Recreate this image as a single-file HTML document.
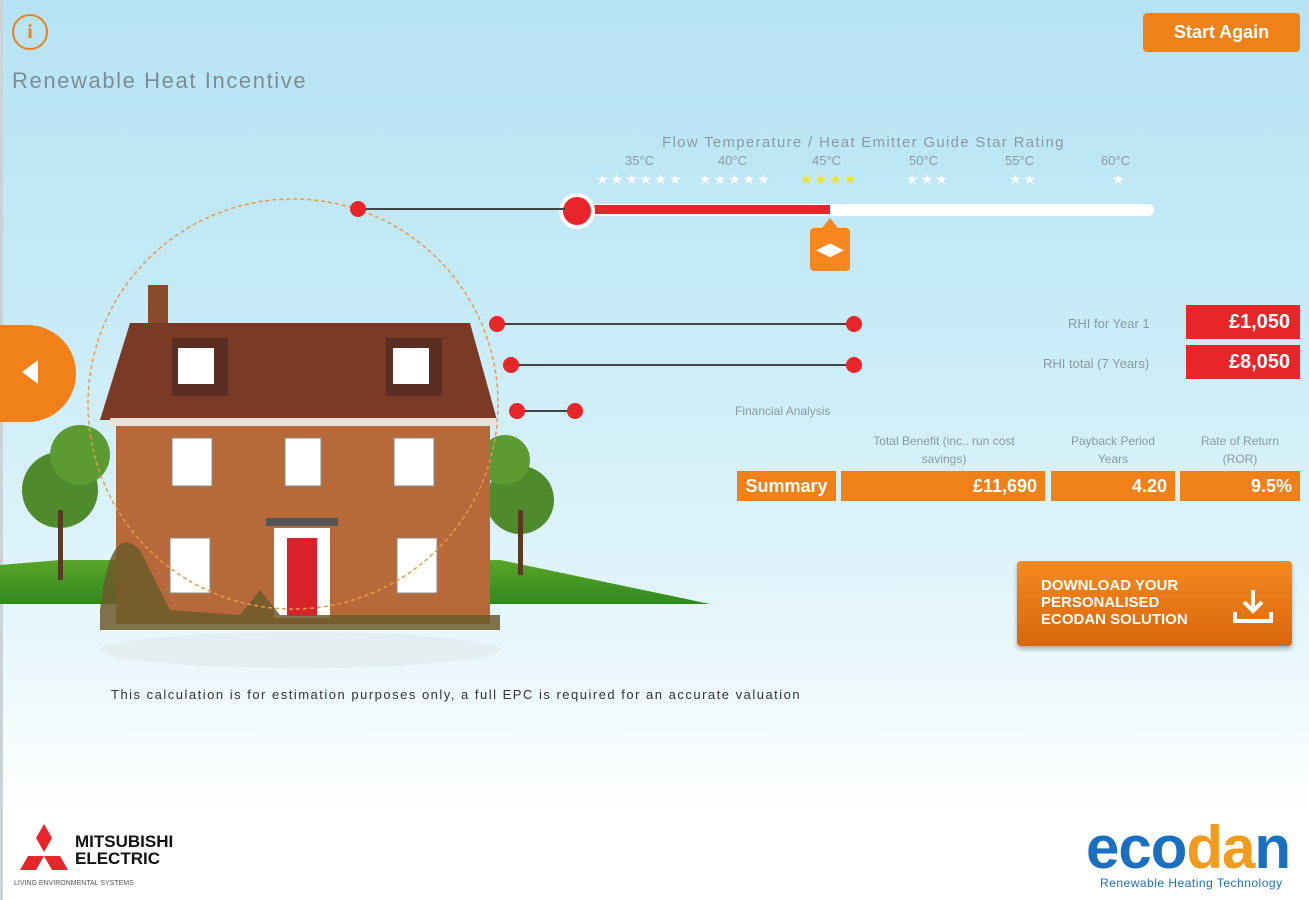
<!DOCTYPE html>
<html><head><meta charset="utf-8"><style>
*{margin:0;padding:0;box-sizing:border-box}
body{width:1309px;height:900px;overflow:hidden;position:relative;font-family:"Liberation Sans","DejaVu Sans",sans-serif;background:linear-gradient(#b6e3f4 0px,#c6ebf7 300px,#e2f5fb 600px,#ffffff 810px,#fff 900px)}
.a{position:absolute}
.t{color:#8a9aa2;font-size:12px}
.red{background:#e8262a;color:#fff;font-weight:bold;font-size:20px;text-align:right;padding-right:10px;line-height:34px}
.or{background:#f08119;color:#fff;font-weight:bold;font-size:18px;text-align:right;padding-right:8px;line-height:30px}
.st{position:absolute;white-space:nowrap;font-size:14px;letter-spacing:2px}
</style></head><body>
<div class="a" style="left:0;top:0;width:3px;height:900px;background:#c9d3d8"></div>
<div class="a" style="left:12px;top:14px;width:36px;height:36px;border:2px solid #f08119;border-radius:50%;color:#f08119;font:bold 20px 'Liberation Serif',serif;text-align:center;line-height:32px">i</div>
<div class="a" style="left:12px;top:68px;font-size:22px;color:#7e8c94;letter-spacing:1.6px">Renewable Heat Incentive</div>
<div class="a" style="left:1143px;top:13px;width:157px;height:39px;background:#f08119;border-radius:4px;color:#fff;font-weight:bold;font-size:18px;text-align:center;line-height:39px">Start Again</div>

<div class="a t" style="left:662px;top:134px;font-size:15px;letter-spacing:1.3px">Flow Temperature / Heat Emitter Guide Star Rating</div>
<div class="a t" style="left:625px;top:153px;width:540px;font-size:13px">
<span class="a" style="left:0">35°C</span><span class="a" style="left:93px">40°C</span><span class="a" style="left:187px">45°C</span><span class="a" style="left:284px">50°C</span><span class="a" style="left:380px">55°C</span><span class="a" style="left:476px">60°C</span></div>
<div class="a" style="left:596px;top:171px;color:#fff">
<span class="st" style="left:0">★★★★★★</span><span class="st" style="left:103px">★★★★★</span><span class="st" style="left:204px;color:#f2e21a">★★★★</span><span class="st" style="left:310px">★★★</span><span class="st" style="left:413px">★★</span><span class="st" style="left:516px">★</span></div>
<div class="a" style="left:576px;top:204px;width:578px;height:12px;background:#fff;border-radius:6px"></div>
<div class="a" style="left:576px;top:205px;width:254px;height:9px;background:#e8262a"></div>
<div class="a" style="left:559px;top:193px;width:36px;height:36px;border-radius:50%;background:#e8262a;border:4px solid #fff"></div>
<div class="a" style="left:810px;top:228px;width:40px;height:43px;background:#f7861e;border-radius:4px;color:#fff;font-size:18px;text-align:center;line-height:43px">◀▶</div>
<div class="a" style="left:822px;top:218px;width:0;height:0;border:8px solid transparent;border-bottom:10px solid #f7861e;border-top:0"></div>

<svg class="a" style="left:0;top:190px" width="720" height="480">
<defs><linearGradient id="g" x1="0" x2="0" y1="0" y2="1"><stop offset="0" stop-color="#5aa52a"/><stop offset="1" stop-color="#2f8a1d"/></linearGradient></defs>
<path d="M0 375 L60 370 L500 370 L710 414 L0 414Z" fill="url(#g)"/>
<circle cx="60" cy="300" r="38" fill="#4f8a2c"/><circle cx="80" cy="265" r="30" fill="#5c9a32"/><rect x="58" y="320" width="5" height="70" fill="#5a3a20"/>
<circle cx="520" cy="310" r="34" fill="#4f8a2c"/><circle cx="505" cy="270" r="25" fill="#5c9a32"/><rect x="518" y="320" width="5" height="65" fill="#5a3a20"/>
<rect x="148" y="95" width="20" height="45" fill="#8b4a2a"/>
<path d="M100 230 L130 133 L470 133 L497 230Z" fill="#7a3a26"/>
<rect x="172" y="148" width="56" height="58" fill="#5a2e22"/><rect x="178" y="158" width="36" height="36" fill="#fff"/>
<rect x="386" y="148" width="56" height="58" fill="#5a2e22"/><rect x="393" y="158" width="36" height="36" fill="#fff"/>
<rect x="110" y="228" width="388" height="8" fill="#e8e2d8"/>
<rect x="116" y="236" width="374" height="198" fill="#b8693a"/>
<g fill="#fff" stroke="#8a8a8a"><rect x="172" y="248" width="40" height="48"/><rect x="285" y="248" width="36" height="48"/><rect x="394" y="248" width="40" height="48"/><rect x="170" y="348" width="40" height="55"/><rect x="397" y="348" width="40" height="55"/></g>
<rect x="266" y="328" width="72" height="8" fill="#555"/>
<rect x="274" y="338" width="56" height="90" fill="#fff"/><rect x="287" y="348" width="30" height="78" fill="#d8222a"/>
<path d="M100 420 Q110 330 140 360 L170 420 L240 425 L260 400 L280 425 L500 425 L500 440 L100 440Z" fill="#6b5a2a" opacity=".85"/>
<ellipse cx="300" cy="460" rx="200" ry="18" fill="#dfe7ea" opacity=".6"/>
<circle cx="293" cy="214" r="205" fill="none" stroke="#e89a4a" stroke-width="1.5" stroke-dasharray="4 3"/>
</svg>
<svg class="a" style="left:0;top:0" width="900" height="440">
<g stroke="#444" stroke-width="2"><line x1="358" y1="209" x2="565" y2="209"/><line x1="497" y1="324" x2="854" y2="324"/><line x1="511" y1="365" x2="854" y2="365"/><line x1="517" y1="411" x2="575" y2="411"/></g>
<g fill="#e8262a"><circle cx="358" cy="209" r="8"/><circle cx="497" cy="324" r="8"/><circle cx="854" cy="324" r="8"/><circle cx="511" cy="365" r="8"/><circle cx="854" cy="365" r="8"/><circle cx="517" cy="411" r="8"/><circle cx="575" cy="411" r="8"/></g>
</svg>
<div class="a" style="left:0;top:325px;width:76px;height:97px;background:#f08119;border-radius:0 49px 49px 0"></div>
<div class="a" style="left:22px;top:360px;width:0;height:0;border:12px solid transparent;border-right:16px solid #fff;border-left:0"></div>

<div class="a t" style="left:1068px;top:316px;font-size:13px">RHI for Year 1</div>
<div class="a t" style="left:1043px;top:356px;font-size:13px">RHI total (7 Years)</div>
<div class="a red" style="left:1186px;top:305px;width:114px">£1,050</div>
<div class="a red" style="left:1186px;top:345px;width:114px">£8,050</div>
<div class="a t" style="left:735px;top:404px">Financial Analysis</div>
<div class="a t" style="left:842px;top:432px;width:204px;text-align:center;line-height:18px">Total Benefit (inc.. run cost<br>savings)</div>
<div class="a t" style="left:1051px;top:432px;width:124px;text-align:center;line-height:18px">Payback Period<br>Years</div>
<div class="a t" style="left:1180px;top:432px;width:120px;text-align:center;line-height:18px">Rate of Return<br>(ROR)</div>
<div class="a or" style="left:737px;top:471px;width:99px;text-align:center;padding:0">Summary</div>
<div class="a or" style="left:841px;top:471px;width:204px">£11,690</div>
<div class="a or" style="left:1051px;top:471px;width:124px">4.20</div>
<div class="a or" style="left:1180px;top:471px;width:120px">9.5%</div>

<div class="a" style="left:1017px;top:561px;width:275px;height:85px;background:linear-gradient(#f58a20,#d9660c);border-radius:4px;box-shadow:0 3px 5px rgba(0,0,0,.3);color:#fff;font-weight:bold;font-size:15px;line-height:17px;padding:16px 0 0 24px">DOWNLOAD YOUR<br>PERSONALISED<br>ECODAN SOLUTION</div>
<svg class="a" style="left:1232px;top:588px" width="42" height="38"><g fill="none" stroke="#fff" stroke-width="4"><path d="M21 2 V22 M12 14 L21 23 L30 14"/><path d="M3 24 V33 H39 V24"/></g></svg>

<div class="a" style="left:111px;top:687px;font-size:13px;color:#333;letter-spacing:1.5px">This calculation is for estimation purposes only, a full EPC is required for an accurate valuation</div>

<svg class="a" style="left:14px;top:824px" width="60" height="52"><g fill="#e8262a"><path d="M30 0 L38 14 L30 28 L22 14Z"/><path d="M22 28 L38 28 L30 42 L14 42 Z" transform="translate(-8,4)"/><path d="M22 28 L38 28 L46 42 L30 42 Z" transform="translate(8,4)"/></g></svg>
<div class="a" style="left:75px;top:833px;font-weight:bold;font-size:17px;line-height:17px;color:#111">MITSUBISHI<br>ELECTRIC</div>
<div class="a" style="left:14px;top:880px;font-size:7px;color:#555">LIVING ENVIRONMENTAL SYSTEMS</div>
<div class="a" style="left:1086px;top:818px;font-size:60px;line-height:60px;font-weight:bold;letter-spacing:-1px"><span style="color:#1b6fc0">eco</span><span style="color:#f39b1d">da</span><span style="color:#1b6fc0">n</span></div>
<div class="a" style="left:1100px;top:876px;font-size:12px;color:#1b6fc0;letter-spacing:0.5px">Renewable Heating Technology</div>
</body></html>
